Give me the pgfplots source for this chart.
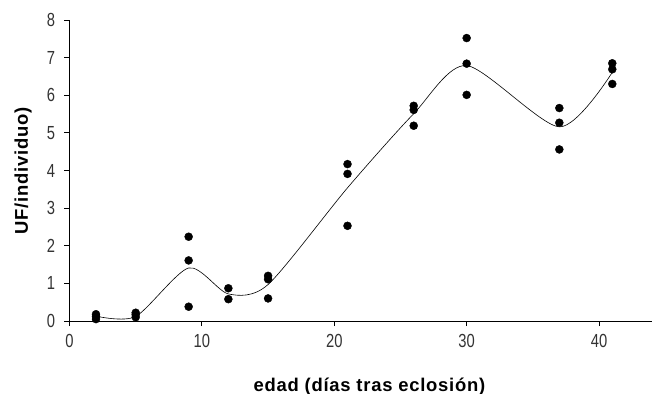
\documentclass[border=0pt]{standalone}
\usepackage{pgfplots}
\pgfplotsset{compat=1.18}
\usepackage{fontspec}
\setmainfont{Liberation Sans}
\newfontfamily\tickfont{Liberation Sans}[FakeStretch=0.78]
\newfontfamily\labfont{Liberation Sans}[LetterSpace=4]
\usetikzlibrary{calc}
\begin{document}
\begin{tikzpicture}
\begin{axis}[
  name=ax,
  scale only axis,
  width=582.5bp, height=301bp,
  xmin=0, xmax=44, ymin=0, ymax=8,
  axis x line=bottom, axis y line=left,
  axis line style={-, black, line width=0.8pt},
  xtick={0,10,20,30,40}, ytick={0,1,...,8},
  tick align=outside, major tick length=5bp,
  tick style={black, line width=0.8pt},
  /pgf/number format/assume math mode=true,
  tick label style={font=\tickfont\fontsize{19}{22}\selectfont, text=black!80},
  xticklabel style={anchor=north, yshift=-5bp},
  yticklabel style={anchor=east, xshift=-6bp},
  xlabel={\textbf{edad (días tras eclosión)}},
  ylabel={\textbf{UF/individuo)}},
  label style={font=\labfont\fontsize{18.5}{22}\selectfont},
  xlabel style={at={(axis description cs:0.5,0)}, anchor=base, yshift=-70bp, xshift=9bp},
  ylabel style={at={(axis description cs:0,0.5)}, anchor=base, yshift=41.5bp},
  clip=false,
]
\addplot[only marks, mark=*, mark size=4bp, black] coordinates {
 (2,0.05) (2,0.12) (2,0.18)
 (5,0.10) (5,0.17) (5,0.22)
 (9,2.24) (9,1.61) (9,0.38)
 (12,0.87) (12,0.58)
 (15,1.20) (15,1.11) (15,0.60)
 (21,4.17) (21,3.91) (21,2.53)
 (26,5.72) (26,5.61) (26,5.19)
 (30,7.52) (30,6.84) (30,6.01)
 (37,5.66) (37,5.27) (37,4.56)
 (41,6.85) (41,6.69) (41,6.30)
};
\addplot[smooth, tension=0.45, black, line width=0.6pt, mark=none] coordinates {
 (2,0.13) (5,0.12) (9,1.41) (12,0.72) (15,0.97) (21,3.54) (26,5.51) (30,6.79) (37,5.16) (41,6.61)
};
\end{axis}
\pgfresetboundingbox
\path ($(ax.south west)+(-69.5bp,-73bp)$) rectangle ($(ax.north east)+(0bp,20bp)$);
\end{tikzpicture}
\end{document}
